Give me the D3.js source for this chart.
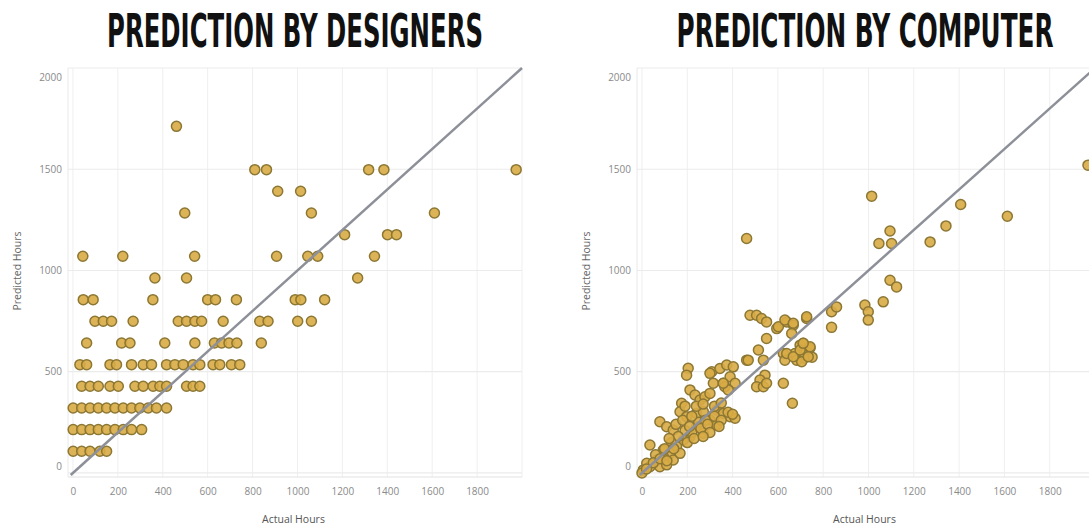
<!DOCTYPE html>
<html>
<head>
<meta charset="utf-8">
<script src="https://cdn.jsdelivr.net/npm/d3@7"></script>
<style>
  body { margin: 0; background: #fff; }
  svg { display: block; }
</style>
</head>
<body>
<svg id="chart" width="1089" height="531"></svg>
<script>

// ---- data ----
var xTicks = [0, 200, 400, 600, 800, 1000, 1200, 1400, 1600, 1800];
var yTicks = [0, 500, 1000, 1500, 2000];
var gridX = [0, 200, 400, 600, 800, 1000, 1200, 1400, 1600, 1800, 2000];

// designers: estimates come in steps of ~107 hours
var designersActual = [
  1, 39, 76, 120, 150,
  1, 39, 76, 113, 150, 187, 224, 261, 306,
  1, 39, 76, 113, 150, 187, 224, 261, 298, 335, 372, 417,
  39, 76, 113, 165, 202, 276, 313, 357, 387, 417, 506, 535, 565,
  31, 61, 165, 194, 261, 313, 350, 417, 454, 491, 535, 565, 624, 654, 706, 743,
  61, 217, 254, 409, 543, 630, 662, 695, 730, 839,
  98, 135, 172, 268, 469, 506, 543, 573, 669, 832, 869, 1001, 1062,
  46, 90, 356, 600, 635, 728, 990, 1015, 1121,
  365, 506, 1268,
  44, 222, 542, 907, 1046, 1090, 1343,
  1210, 1401, 1441,
  498, 1062, 1610,
  912, 1014,
  810, 862, 1317, 1385, 1974,
  461
];
var designersPredicted = [
  107, 107, 107, 107, 107,
  214, 214, 214, 214, 214, 214, 214, 214, 214,
  321, 321, 321, 321, 321, 321, 321, 321, 321, 321, 321, 321,
  428, 428, 428, 428, 428, 428, 428, 428, 428, 428, 428, 428, 428,
  535, 535, 535, 535, 535, 535, 535, 535, 535, 535, 535, 535, 535, 535, 535, 535,
  642, 642, 642, 642, 642, 642, 642, 642, 642, 642,
  749, 749, 749, 749, 749, 749, 749, 749, 749, 749, 749, 749, 749,
  856, 856, 856, 856, 856, 856, 856, 856, 856,
  963, 963, 963,
  1070, 1070, 1070, 1070, 1070, 1070, 1070,
  1177, 1177, 1177,
  1284, 1284, 1284,
  1391, 1391,
  1498, 1498, 1498, 1498, 1498,
  1712
];

var computerActual = [
  462, 1014, 1095, 1046, 1102, 1272, 1342, 1407, 1613, 1969,
  727, 837, 859, 837, 984, 999, 999, 1065, 1095, 1124,
  698, 724, 751, 715, 742,
  477, 506, 528, 550, 550, 595, 639, 668, 514, 462, 602, 631, 668, 661, 727,
  624, 631, 675, 683, 712, 742, 705, 536, 469, 639, 668, 698, 712, 734,
  543, 521, 506, 536, 550, 624, 664,
  204, 197, 308, 300, 344, 374, 403, 359, 389, 366, 411, 381, 315, 359,
  212, 234, 256, 278, 300, 175, 168, 197, 79, 109, 138,
  241, 271, 330, 359, 389, 411, 300, 330, 241, 271, 212, 182, 153, 124, 94, 65, 35, 6,
  35, 94, 79, 109, 138, 168, 0, 21,
  250, 280, 220, 190, 160, 130, 260, 290, 320, 350, 380, 400, 150, 180, 120, 100,
  60, 50, 20, 80, 110, 140, 200, 230, 300, 270, 340, 210, 240, 270, 190, 220, 320, 350
];
var computerPredicted = [
  1158, 1367, 1195, 1133, 1133, 1141, 1220, 1326, 1268, 1520,
  763, 796, 820, 719, 829, 796, 755, 845, 952, 919,
  631, 597, 572, 567, 617,
  779, 779, 763, 746, 664, 713, 746, 730, 607, 557, 722, 755, 739, 689, 771,
  590, 557, 590, 557, 640, 623, 549, 557, 557, 590, 574, 607, 640, 574,
  483, 459, 426, 426, 443, 443, 344,
  517, 483, 500, 492, 516, 533, 524, 443, 475, 426, 443, 410, 443, 443,
  410, 385, 360, 376, 393, 344, 302, 278, 253, 228, 212,
  294, 302, 311, 294, 278, 270, 261, 237, 228, 196, 179, 163, 130, 97, 81, 64, 31, 15,
  138, 113, 31, 40, 64, 97, 0, 48,
  250, 260, 200, 210, 180, 150, 220, 240, 280, 260, 300, 290, 240, 260, 170, 120,
  90, 50, 20, 70, 60, 120, 150, 170, 200, 180, 230, 230, 330, 340, 330, 280, 330, 345
];

var svg = d3.select("#chart");

function draw(title, actual, predicted, left, right, titleX, titleLen) {

  var top = 68, bottom = 477;

  var x = d3.scaleLinear().domain([-22, 2000]).range([left, right]);
  var y = d3.scaleLinear().domain([-20, 2000]).range([bottom, top]);

  var g = svg.append("g");

  // condensed title: measure then squeeze horizontally to the width seen
  var t = g.append("text")
      .attr("x", 0)
      .attr("y", 0)
      .attr("text-anchor", "middle")
      .attr("font-family", "'DejaVu Sans Condensed', 'DejaVu Sans', sans-serif")
      .attr("font-weight", "bold")
      .attr("font-size", 47)
      .attr("fill", "#111")
      .text(title);
  var natural = t.node().getComputedTextLength();
  t.attr("transform", "translate(" + titleX + ",47) scale(" + (titleLen / natural) + ",1)");

  // grid
  g.selectAll(".vgrid")
    .data(gridX)
    .enter().append("line")
      .attr("x1", function(d) { return x(d); })
      .attr("x2", function(d) { return x(d); })
      .attr("y1", top)
      .attr("y2", bottom)
      .attr("stroke", "#efefef")
      .attr("stroke-width", 1);

  g.selectAll(".hgrid")
    .data(yTicks)
    .enter().append("line")
      .attr("x1", left)
      .attr("x2", right)
      .attr("y1", function(d) { return y(d); })
      .attr("y2", function(d) { return y(d); })
      .attr("stroke", "#ebebeb")
      .attr("stroke-width", 1.2);

  g.append("line")
      .attr("x1", left).attr("x2", right)
      .attr("y1", bottom).attr("y2", bottom)
      .attr("stroke", "#e2e2e2");
  g.append("line")
      .attr("x1", left).attr("x2", left)
      .attr("y1", top).attr("y2", bottom)
      .attr("stroke", "#e8e8e8");

  // axes
  var ya = g.append("g")
      .attr("transform", "translate(" + left + ",0)")
      .call(d3.axisLeft(y).tickValues(yTicks).tickFormat(d3.format("d")).tickSize(0).tickPadding(6));
  ya.select(".domain").remove();
  ya.selectAll("text")
      .attr("font-family", "'Open Sans', sans-serif")
      .attr("font-size", 10)
      .attr("fill", "#8a8a8a")
      .attr("dy", function(d) { return d === 2000 ? "1.2em" : (d === 0 ? "-0.3em" : "0.32em"); });

  var xa = g.append("g")
      .attr("transform", "translate(0," + bottom + ")")
      .call(d3.axisBottom(x).tickValues(xTicks).tickFormat(d3.format("d")).tickSize(0).tickPadding(11));
  xa.select(".domain").remove();
  xa.selectAll("text")
      .attr("font-family", "'Open Sans', sans-serif")
      .attr("font-size", 10)
      .attr("fill", "#8a8a8a");

  g.append("text")
      .attr("x", (x(0) + x(2000)) / 2 - 4)
      .attr("y", 523)
      .attr("text-anchor", "middle")
      .attr("font-family", "'Open Sans', sans-serif")
      .attr("font-size", 10.5)
      .attr("fill", "#555")
      .text("Actual Hours");

  g.append("text")
      .attr("transform", "translate(" + (left - 47) + ",271) rotate(-90)")
      .attr("text-anchor", "middle")
      .attr("font-family", "'Open Sans', sans-serif")
      .attr("font-size", 10.5)
      .attr("fill", "#666")
      .text("Predicted Hours");

  // points
  var pts = actual.map(function(d, i) { return {a: d, p: predicted[i]}; });

  g.selectAll(".dot")
    .data(pts)
    .enter().append("circle")
      .attr("cx", function(d) { return x(d.a); })
      .attr("cy", function(d) { return y(d.p); })
      .attr("r", 5)
      .attr("fill", "#d8ab45")
      .attr("fill-opacity", 0.9)
      .attr("stroke", "#8c7733")
      .attr("stroke-width", 1.5);

  // perfect-prediction line
  var line = d3.line()
      .x(function(d) { return x(d); })
      .y(function(d) { return y(d); });

  g.append("path")
      .datum([-10, 2000])
      .attr("fill", "none")
      .attr("stroke", "#8d9098")
      .attr("stroke-width", 2.5)
      .attr("d", line);
}

draw("PREDICTION BY DESIGNERS", designersActual, designersPredicted, 68, 522, 295, 376);
draw("PREDICTION BY COMPUTER", computerActual, computerPredicted, 637, 1095, 865, 377);

</script>
</body>
</html>
